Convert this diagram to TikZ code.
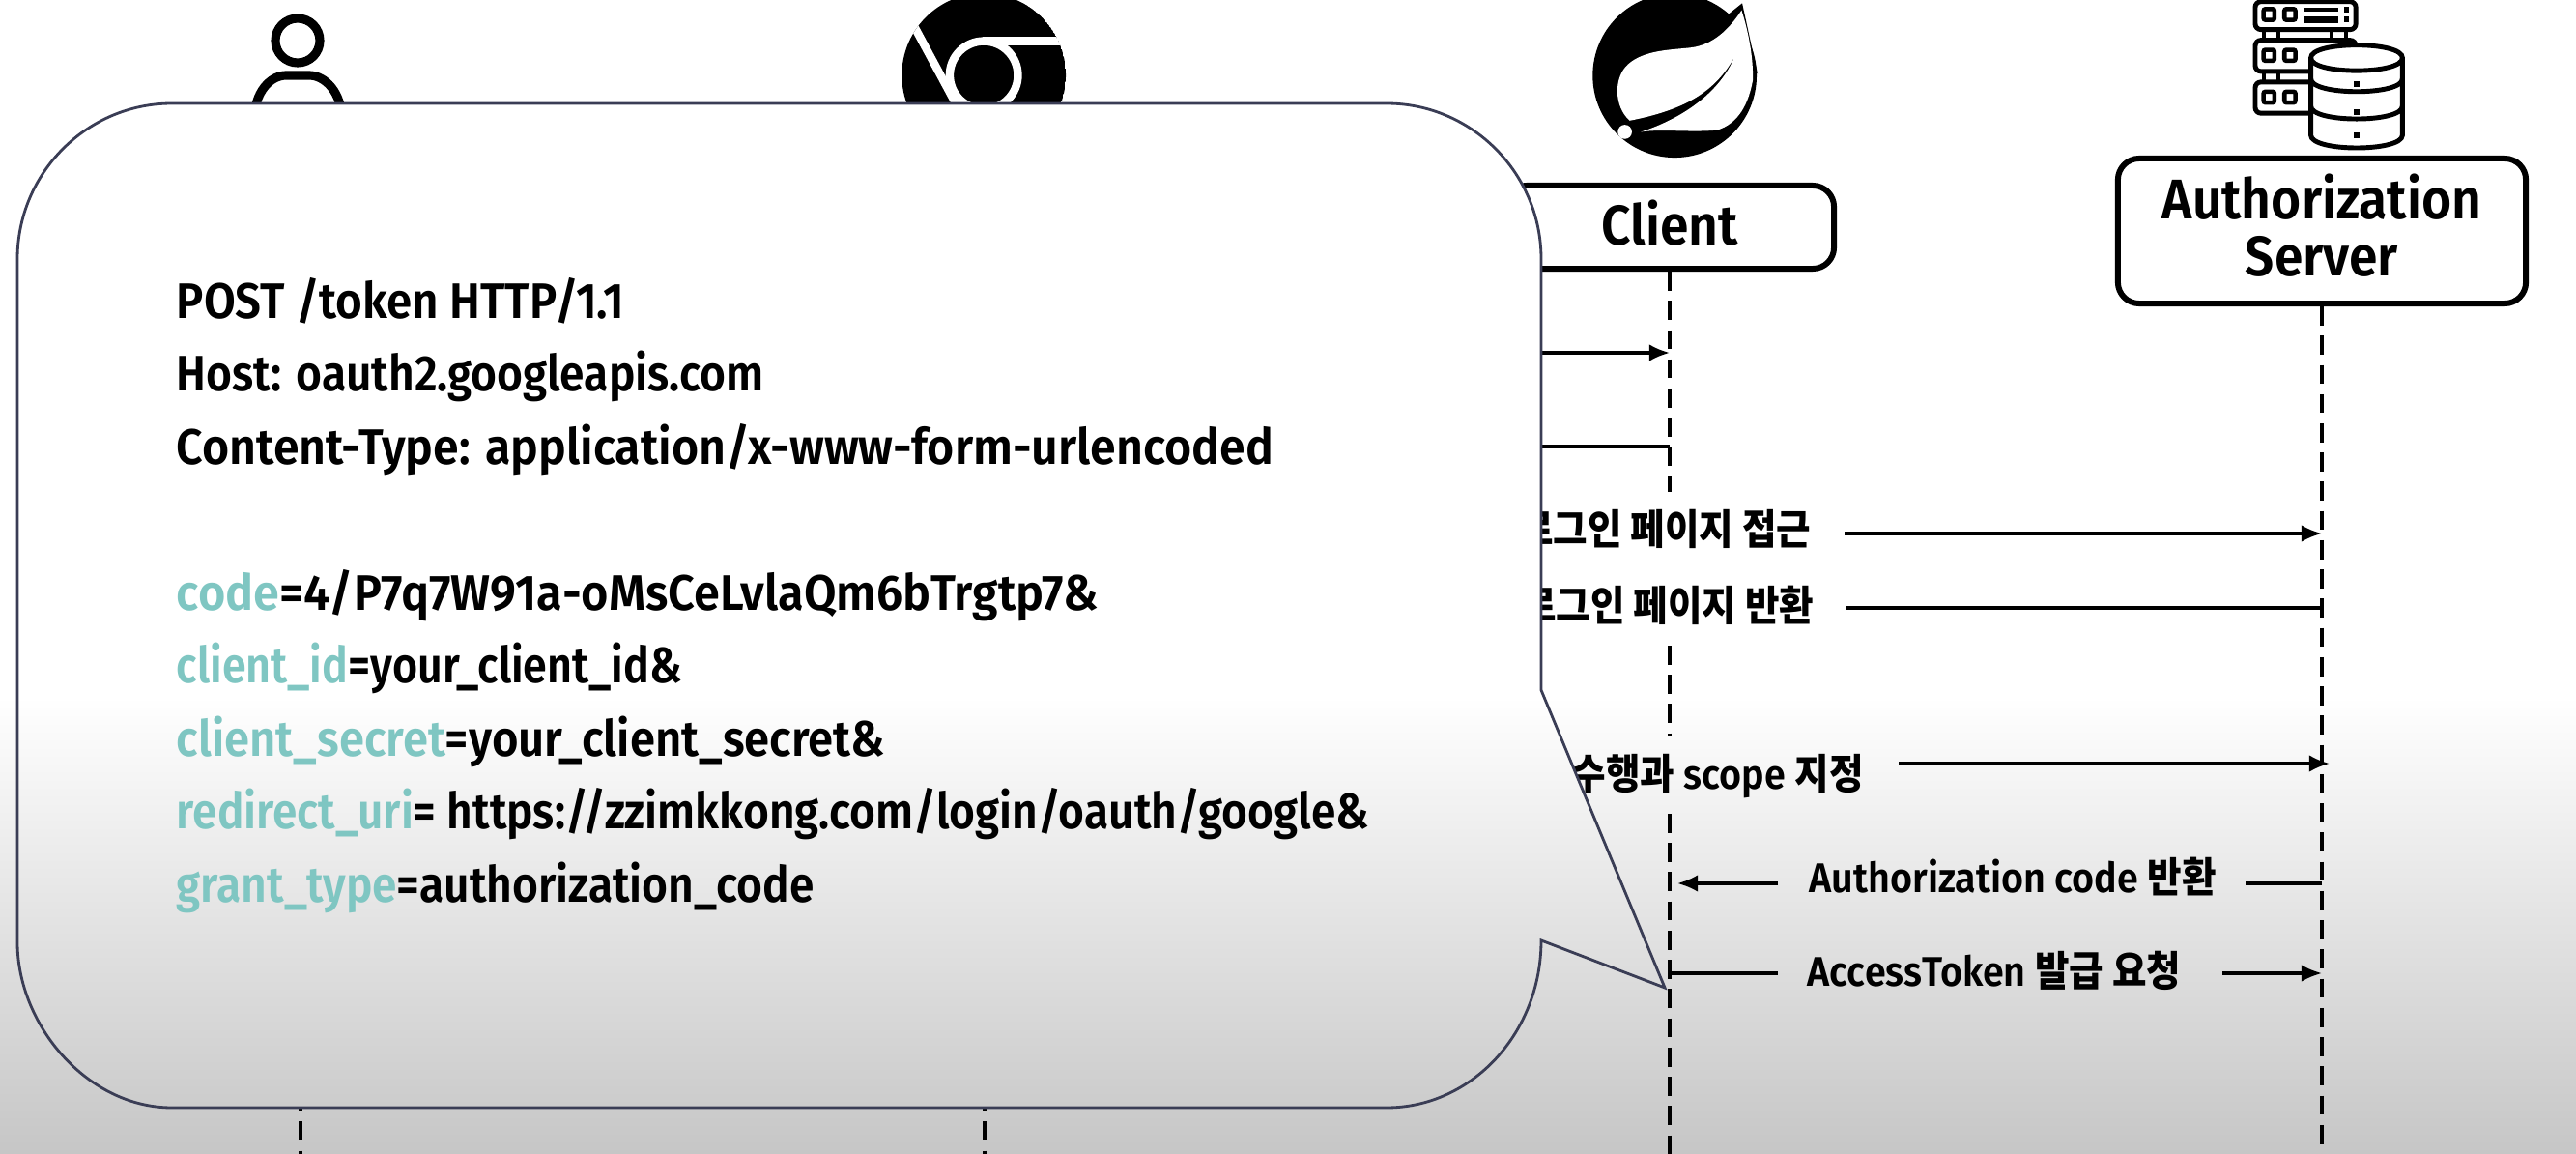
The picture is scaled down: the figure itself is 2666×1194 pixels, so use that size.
\documentclass[tikz,border=0pt]{standalone}
\usepackage{fontspec}
\usepackage{graphicx}
\setmainfont{Fira Sans}[BoldFont=Fira Sans SemiBold, BoldFeatures={FakeStretch=0.92}]
\newfontfamily\cjk{Noto Sans CJK KR Bold}[FakeStretch=0.9]
\usetikzlibrary{arrows.meta,positioning}
\definecolor{keyteal}{HTML}{7FC6C2}
\definecolor{bubbleline}{HTML}{3A3D55}
\definecolor{shadegray}{HTML}{C6C6C6}
\tikzstyle{box}      = [draw, line width=1.7pt, rounded corners=0.22cm, align=center, inner sep=0pt,
                        font=\fontsize{16.5}{16.6}\selectfont\bfseries]
\tikzstyle{life}     = [line width=0.9pt, dash pattern=on 5.6pt off 3pt]
\tikzstyle{msg}      = [line width=0.9pt]
\tikzstyle{ptr}      = [msg, -{Latex[length=6pt,width=5pt]}]
\tikzstyle{steptext} = [inner sep=0pt, font=\fontsize{12.2}{12.2}\selectfont\bfseries]
\tikzstyle{reqline}  = [anchor=base west, inner sep=0pt, font=\fontsize{14.7}{15}\selectfont\bfseries]
\tikzstyle{icon}     = [line width=1.4pt, rounded corners=0.06cm]
\newcommand{\key}[1]{\textcolor{keyteal}{#1}}
\newcommand{\fitline}[2]{\scalebox{#1}[1]{#2}}
\newcommand{\bubblepath}{(178,107) -- (1435,107) .. controls (1523,107) and (1595,179) .. (1595,268)
	-- (1595,714) -- (1723,1022) -- (1595,973) .. controls (1595,1069) and (1523,1146) .. (1435,1146)
	-- (178,1146) .. controls (90,1146) and (18,1060) .. (18,975) -- (18,268)
	.. controls (18,179) and (90,107) .. (178,107) -- cycle}

\begin{document}
\begin{tikzpicture}[x=0.01cm, y=-0.01cm]
		\useasboundingbox (0,0) rectangle (2666,1194);
		\fill[white] (0,0) rectangle (2666,720);
		\shade[top color=white, bottom color=shadegray] (0,720) rectangle (2666,1194);

		\draw[line width=2.6pt] (308,42) circle (23);
		\draw[line width=2.6pt] (263,125) .. controls (263,95) and (280,78) .. (296,78) -- (320,78)
			.. controls (336,78) and (354,95) .. (354,125);

		\begin{scope}[shift={(920,0)}, x=0.00333cm, y=-0.00333cm]
			\begin{scope}
				\clip (295,234) circle (255);
				\fill (295,234) circle (255);
				\draw[white, line width=2.4pt] (295,234) circle (106);
				\draw[white, line width=2.4pt] (72,70) -- (215,335);
				\draw[white, line width=2.6pt] (290,129) -- (570,129);
			\end{scope}
		\end{scope}

		\begin{scope}[shift={(1630,0)}, x=0.00333cm, y=-0.00333cm]
			\fill (310,235) circle (255);
			\fill (470,50) -- (520,10) -- (568,230) -- cycle;
			\fill[white] (170,375) .. controls (120,330) and (120,240) .. (165,200)
				.. controls (215,155) and (300,155) .. (360,148)
				.. controls (430,140) and (480,90) .. (518,32)
				.. controls (540,100) and (555,180) .. (553,250)
				.. controls (540,320) and (510,385) .. (440,405)
				.. controls (350,412) and (270,400) .. (205,410)
				.. controls (330,370) and (450,290) .. (497,175)
				.. controls (440,280) and (350,340) .. (170,375) -- cycle;
			\fill[white] (155,410) circle (22);
		\end{scope}

		\begin{scope}[shift={(2310,0)}, x=0.00333cm, y=-0.00333cm]
			\draw[icon] (72,5) rectangle (385,92);
			\draw[icon] (72,125) rectangle (385,222);
			\draw[icon] (72,255) rectangle (385,352);
			\foreach \rackx in {100,145,310,355} {\draw[line width=1.2pt] (\rackx,92) -- (\rackx,125);}
			\foreach \rackx in {100,145} {\draw[line width=1.2pt] (\rackx,222) -- (\rackx,255);}
			\foreach \rackx/\racky in {115/45,180/45,115/172,180/172,115/302,180/302}
				{\draw[line width=1.3pt, rounded corners=0.02cm] (\rackx-17,\racky-17) rectangle (\rackx+17,\racky+17);}
			\draw[line width=1.4pt] (222,30) -- (330,30);
			\fill (222,52) rectangle (330,72);
			\fill (348,22) rectangle (362,38);
			\fill (348,52) rectangle (362,68);
			\draw[icon, fill=white, rounded corners=0pt] (245,180) .. controls (245,127) and (530,127) .. (530,180)
				-- (530,420) .. controls (530,473) and (245,473) .. (245,420) -- cycle;
			\draw[icon, rounded corners=0pt] (245,180) .. controls (245,233) and (530,233) .. (530,180);
			\draw[icon, rounded corners=0pt] (245,245) .. controls (245,298) and (530,298) .. (530,245);
			\draw[icon, rounded corners=0pt] (245,330) .. controls (245,383) and (530,383) .. (530,330);
			\fill (380,253) rectangle (396,270);
			\fill (380,340) rectangle (396,357);
			\fill (380,412) rectangle (396,429);
		\end{scope}

		\node[box, minimum width=3.4cm, minimum height=0.86cm, text depth=3pt] (client) at (1728,235) {Client};
		\node[box, minimum width=4.22cm, minimum height=1.5cm, text depth=3.5pt] (auth) at (2403,239) {Authorization\\Server};

		\coordinate (userlow) at (311,1100);
		\coordinate (userend) at (311,1194);
		\coordinate (weblow) at (1019,1100);
		\coordinate (webend) at (1019,1194);
		\coordinate (weba) at (1019,365);
		\coordinate (webb) at (1019,462);
		\coordinate (cgapa) at (1728,509);
		\coordinate (cgapb) at (1728,668);
		\coordinate (cgapc) at (1728,761);
		\coordinate (cgapd) at (1728,842);
		\coordinate (cend) at (1728,1194);
		\coordinate (aend) at (2403,1194);
		\coordinate (ca) at (1728,365);
		\coordinate (cb) at (1728,462);
		\coordinate (cc) at (1736,914);
		\coordinate (cd) at (1728,1007);
		\coordinate (aa) at (2403,552);
		\coordinate (ab) at (2403,629);
		\coordinate (ac) at (2411,790);
		\coordinate (ad) at (2403,914);
		\coordinate (ae) at (2403,1007);

		\draw[life] (userlow) -- (userend);
		\draw[life] (weblow) -- (webend);
		\draw[life] (client.south) -- (cgapa);
		\draw[life] (cgapb) -- (cgapc);
		\draw[life] (cgapd) -- (cend);
		\draw[life] (auth.south) -- (aend);

		\node[steptext, anchor=base east] (loginreq) at (1875,563) {\cjk 로그인 페이지 접근};
		\node[steptext, anchor=base east] (loginres) at (1878,642) {\cjk 로그인 페이지 반환};
		\node[steptext, anchor=base west] (scope) at (1626,816) {{\cjk 수행과} scope {\cjk 지정}};
		\node[steptext, anchor=base west] (coderes) at (1872,923) {Authorization code {\cjk 반환}};
		\node[steptext, anchor=base west] (tokenreq) at (1870,1020) {AccessToken {\cjk 발급 요청}};

		\draw[ptr] (weba) -- (ca);
		\draw[msg] (cb) -- (webb);
		\draw[ptr] (1909,552) -- (aa);
		\draw[msg] (ab) -- (1911,629);
		\draw[ptr] (1965,790) -- (ac);
		\draw[ptr] (1840,914) -- (cc);
		\draw[msg] (ad) -- (2324,914);
		\draw[msg] (cd) -- (1840,1007);
		\draw[ptr] (2300,1007) -- (ae);

		\fill[white] \bubblepath;
		\begin{scope}
			\clip \bubblepath;
			\shade[top color=white, bottom color=shadegray] (0,720) rectangle (2666,1194);
		\end{scope}
		\draw[bubbleline, line width=0.8pt] \bubblepath;

		\node[reqline] (post) at (182,329) {POST /token HTTP/1.1};
		\node[reqline] (host) at (182,404) {\fitline{0.97}{Host: oauth2.googleapis.com}};
		\node[reqline] (ctype) at (182,480) {\fitline{1.015}{Content-Type: application/x-www-form-urlencoded}};
		\node[reqline] (code) at (182,631) {\fitline{1.024}{\key{code}=4/P7q7W91a-oMsCeLvlaQm6bTrgtp7\&}};
		\node[reqline] (cid) at (182,706) {\fitline{0.942}{\key{client\_id}=your\_client\_id\&}};
		\node[reqline] (secret) at (182,782) {\fitline{0.993}{\key{client\_secret}=your\_client\_secret\&}};
		\node[reqline] (redirect) at (182,857) {\fitline{0.968}{\key{redirect\_uri}= https://zzimkkong.com/login/oauth/google\&}};
		\node[reqline] (grant) at (182,933) {\fitline{0.97}{\key{grant\_type}=authorization\_code}};
	\end{tikzpicture}
\end{document}
